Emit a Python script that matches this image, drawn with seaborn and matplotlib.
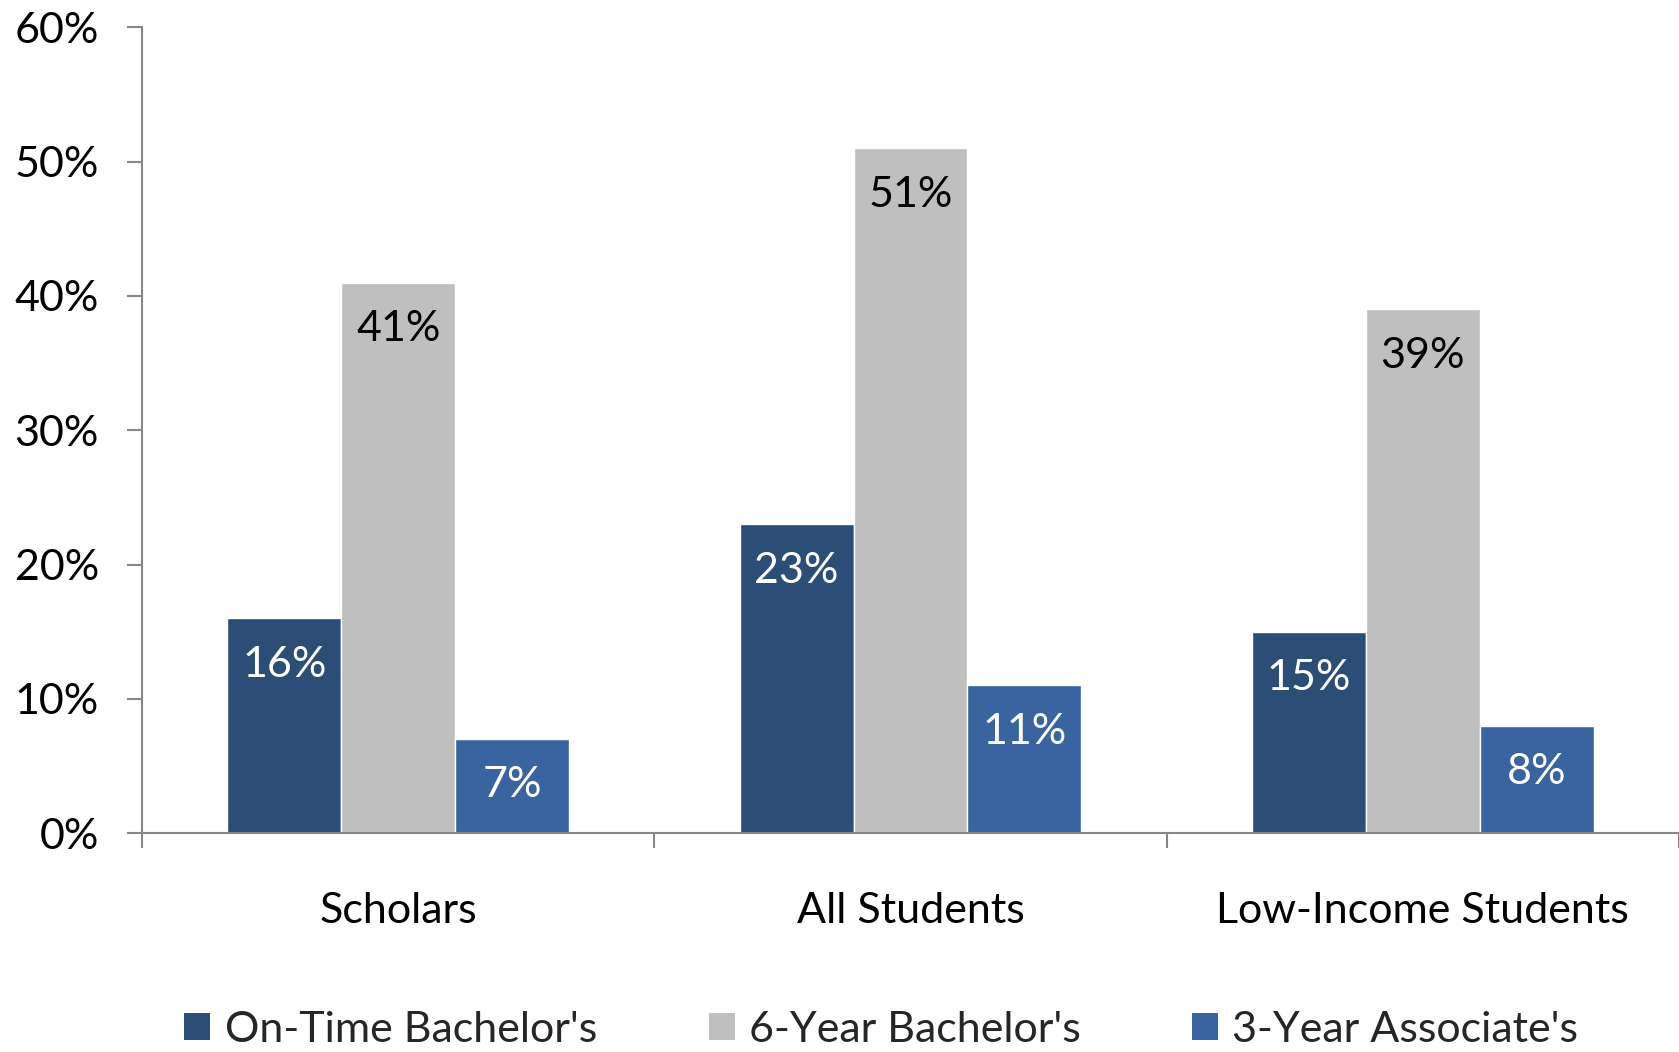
import matplotlib
matplotlib.use("Agg")
import matplotlib.pyplot as plt
import seaborn as sns
import pandas as pd
from matplotlib.ticker import PercentFormatter, FixedLocator
from matplotlib.patches import Patch

categories = ["Scholars", "All Students", "Low-Income Students"]
series = ["On-Time Bachelor's", "6-Year Bachelor's", "3-Year Associate's"]
on_time = [16, 23, 15]
six_year = [41, 51, 39]
three_year = [7, 11, 8]
colors = ["#2C4D75", "#BFBFBF", "#3A64A0"]
label_colors = ["white", "black", "white"]

rows = []
for s, vals in zip(series, [on_time, six_year, three_year]):
    for c, v in zip(categories, vals):
        rows.append({"Category": c, "Series": s, "Value": v})
df = pd.DataFrame(rows)

sns.set_theme(style="white")
plt.rcParams['font.family'] = ['Lato', 'DejaVu Sans']
FS = 31

fig = plt.figure(figsize=(16.79, 10.52), dpi=100)
ax = fig.add_axes([0.0846, 0.208, 0.9154, 0.766])

sns.barplot(data=df, x="Category", y="Value", hue="Series", order=categories,
            hue_order=series, palette=colors, width=0.667, ax=ax,
            edgecolor="white", linewidth=1, legend=False, saturation=1)

for cont, lc in zip(ax.containers, label_colors):
    ax.bar_label(cont, labels=[f"{int(round(b.get_height()))}%" for b in cont],
                 label_type="edge", padding=-47, color=lc, fontsize=FS)

ax.set_xlim(-0.5, 2.5)
ax.set_ylim(0, 60)
ax.yaxis.set_major_locator(FixedLocator([0, 10, 20, 30, 40, 50, 60]))
ax.yaxis.set_major_formatter(PercentFormatter(decimals=0))
ax.set_xlabel("")
ax.set_ylabel("")

ax.xaxis.set_minor_locator(FixedLocator([-0.5, 0.5, 1.5, 2.5]))
ax.tick_params(axis="x", which="major", length=0, pad=42, labelsize=FS, labelcolor="black")
ax.tick_params(axis="x", which="minor", length=11, width=1.5, color="#868686", direction="out", bottom=True)
ax.tick_params(axis="y", which="major", length=11, width=1.5, color="#868686", direction="out",
               pad=20, labelsize=FS, labelcolor="black", left=True)

for sp in ["top", "right"]:
    ax.spines[sp].set_visible(False)
for sp in ["left", "bottom"]:
    ax.spines[sp].set_color("#868686")
    ax.spines[sp].set_linewidth(1.5)

handles = [Patch(facecolor=c, edgecolor="none") for c in colors]
fig.legend(handles, series, loc="center", bbox_to_anchor=(0.525, 0.021), ncol=3,
           frameon=False, fontsize=FS, handlelength=0.6, handleheight=0.6,
           handletextpad=0.33, columnspacing=2.6)

fig.savefig("out.png", dpi=100)
